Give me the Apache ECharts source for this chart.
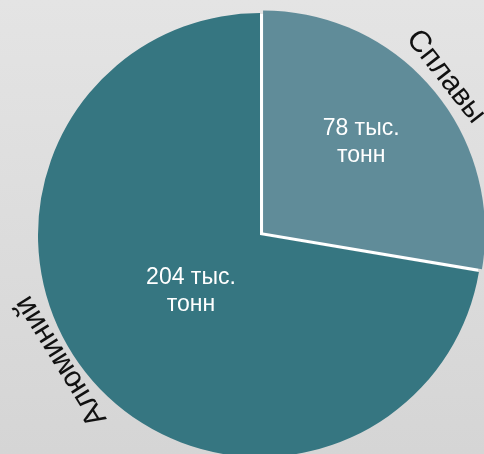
<!DOCTYPE html>
<html><head><meta charset="utf-8">
<script src="https://cdn.jsdelivr.net/npm/echarts@6/dist/echarts.min.js"></script>
<style>html,body{margin:0;padding:0;background:#dcdcdc}#c{width:484px;height:454px}</style>
</head><body><div id="c"></div>
<script>
// data
const categories = ['Сплавы', 'Алюминий'];
const values = [78, 204];
const unitLine1 = 'тыс.';
const unitLine2 = 'тонн';

// styles
const colors = ['#608c99', '#367681'];
const innerShift = [[11, -17], [18, -17]];
const outerRotate = [-52, 122];
const outerShift = [[-1, -4], [33, 2]]; // local [along text, toward text bottom]
const FONT = '"Liberation Sans", Arial, sans-serif';

const chart = echarts.init(document.getElementById('c'), null, {renderer: 'canvas'});
const center = [260, 235];
const R = 222;

chart.setOption({
  backgroundColor: {type: 'linear', x: 0, y: 0, x2: 0, y2: 1,
    colorStops: [{offset: 0, color: '#e4e4e4'}, {offset: 1, color: '#d5d5d5'}]},
  animation: false,
  series: [
    {
      type: 'pie', center: center, radius: [0, R - 1], startAngle: 90, clockwise: true,
      silent: true, label: {show: false}, labelLine: {show: false}, emphasis: {disabled: true},
      data: categories.map((n, i) => ({name: n, value: values[i], itemStyle: {color: '#ffffff'}}))
    },
    {
      type: 'pie', center: center, radius: [0, R], startAngle: 90, clockwise: true,
      selectedMode: 'single', selectedOffset: 4, avoidLabelOverlap: false,
      data: categories.map((n, i) => ({
        name: n, value: values[i], selected: i === 0,
        itemStyle: {color: colors[i], borderWidth: 0},
        select: {itemStyle: {color: colors[i], borderWidth: 0}}
      })),
      label: {
        show: true, position: 'inside',
        formatter: p => p.value + ' ' + unitLine1 + '\n' + unitLine2,
        color: '#fff', fontSize: 23, lineHeight: 27, fontFamily: FONT
      },
      labelLine: {show: false},
      emphasis: {disabled: true},
      labelLayout: p => ({dx: innerShift[p.dataIndex][0], dy: innerShift[p.dataIndex][1]})
    },
    {
      type: 'pie', center: center, radius: [R + 3, R + 27], startAngle: 90, clockwise: true,
      silent: true, avoidLabelOverlap: false,
      data: categories.map((n, i) => ({
        name: n, value: values[i],
        itemStyle: {color: 'rgba(0,0,0,0)'},
        label: {rotate: outerRotate[i]}
      })),
      label: {
        show: true, position: 'inside', formatter: '{b}',
        color: '#111', fontSize: 30, fontFamily: FONT
      },
      labelLine: {show: false},
      emphasis: {disabled: true},
      labelLayout: p => ({dx: outerShift[p.dataIndex][0], dy: outerShift[p.dataIndex][1]})
    }
  ]
});
</script></body></html>
